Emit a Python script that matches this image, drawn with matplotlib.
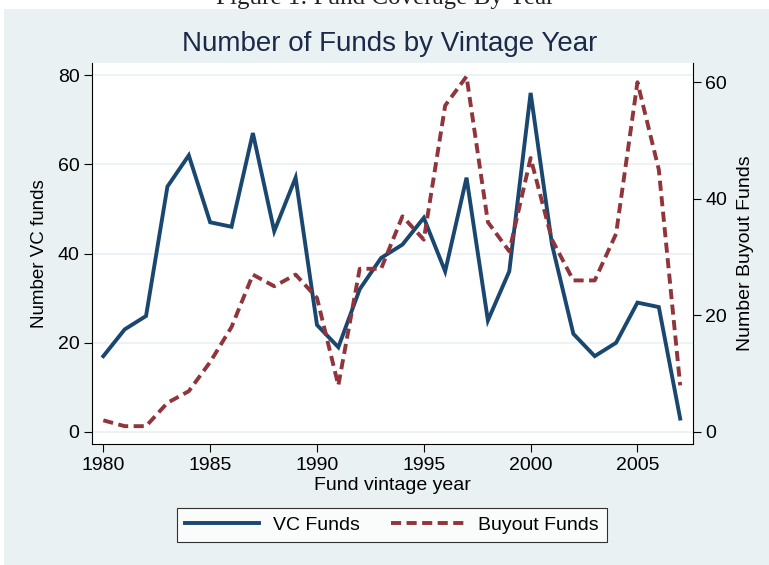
import matplotlib.pyplot as plt
from matplotlib.patches import Rectangle

# fund counts by vintage year
years = list(range(1980, 2008))
vc_funds = [17, 23, 26, 55, 62, 47, 46, 67, 45, 57, 24, 19, 32, 39, 42, 48,
            36, 57, 25, 36, 76, 42, 22, 17, 20, 29, 28, 3]
buyout_funds = [2, 1, 1, 5, 7, 12, 18, 27, 25, 27, 23, 8, 28, 28, 37, 33,
                56, 61, 36, 31, 47, 33, 26, 26, 34, 60, 45, 8]

vc_color = '#1a476f'
bo_color = '#90353b'
bg_color = '#eaf1f3'
W, H = 769, 565

plt.rcParams['font.family'] = ['Liberation Sans', 'DejaVu Sans']

fig = plt.figure(figsize=(W / 100, H / 100), dpi=100)
fig.patch.set_facecolor('white')
fig.patches.append(Rectangle((4 / W, 0), 1, 1 - 9 / H, transform=fig.transFigure,
                             facecolor=bg_color, edgecolor='none', zorder=-10))
# caption of the page, cut off at the top like in the scan
fig.text(385 / W, 1 - 4 / H, 'Figure 1: Fund Coverage By Year', ha='center',
         va='baseline', family='Liberation Serif', fontsize=18, color='#222222')

ax = fig.add_axes([92 / W, 1 - 444 / H, (693 - 92) / W, (444 - 63) / H])
ax.set_facecolor('white')
ax2 = ax.twinx()

l1, = ax.plot(years, vc_funds, color=vc_color, lw=2.8, label='VC Funds',
              solid_joinstyle='miter', zorder=3)
l2, = ax2.plot(years, buyout_funds, color=bo_color, lw=2.8, ls=(0, (2.6, 1.4)),
               label='Buyout Funds', zorder=3)

ax.set_xlim(1979.47, 2007.6)
ax.set_ylim(-2.69, 82.7)
ax2.set_ylim(-2.06, 63.3)
ax.set_xticks(range(1980, 2006, 5))
ax.set_yticks(range(0, 81, 20))
ax2.set_yticks(range(0, 61, 20))
ax.grid(axis='y', color=bg_color, lw=1.2)
ax.set_axisbelow(True)

for a in (ax, ax2):
    a.spines['top'].set_visible(False)
    a.tick_params(direction='out', length=6, width=0.8, labelsize=14, pad=3)
ax.spines['right'].set_visible(False)
ax2.spines['left'].set_visible(False)
ax2.spines['bottom'].set_visible(False)

ax.set_xlabel('Fund vintage year', fontsize=14, labelpad=2.5)
ax.set_ylabel('Number VC funds', fontsize=13.5, labelpad=7)
ax2.set_ylabel('Number Buyout Funds', fontsize=14, labelpad=7)

fig.text(390 / W, 1 - 44 / H, 'Number of Funds by Vintage Year', ha='center',
         va='center', fontsize=20, color='#1c2a4a')

leg = fig.legend(handles=[l1, l2], loc='center', ncol=2,
                 bbox_to_anchor=(392 / W, 1 - 525 / H), fontsize=14,
                 frameon=True, fancybox=False, edgecolor='black',
                 handlelength=3.8, handletextpad=0.7, columnspacing=1.6,
                 borderpad=0.4)
leg.get_frame().set_linewidth(0.8)

fig.savefig('out.png', dpi=100, facecolor=fig.get_facecolor())
